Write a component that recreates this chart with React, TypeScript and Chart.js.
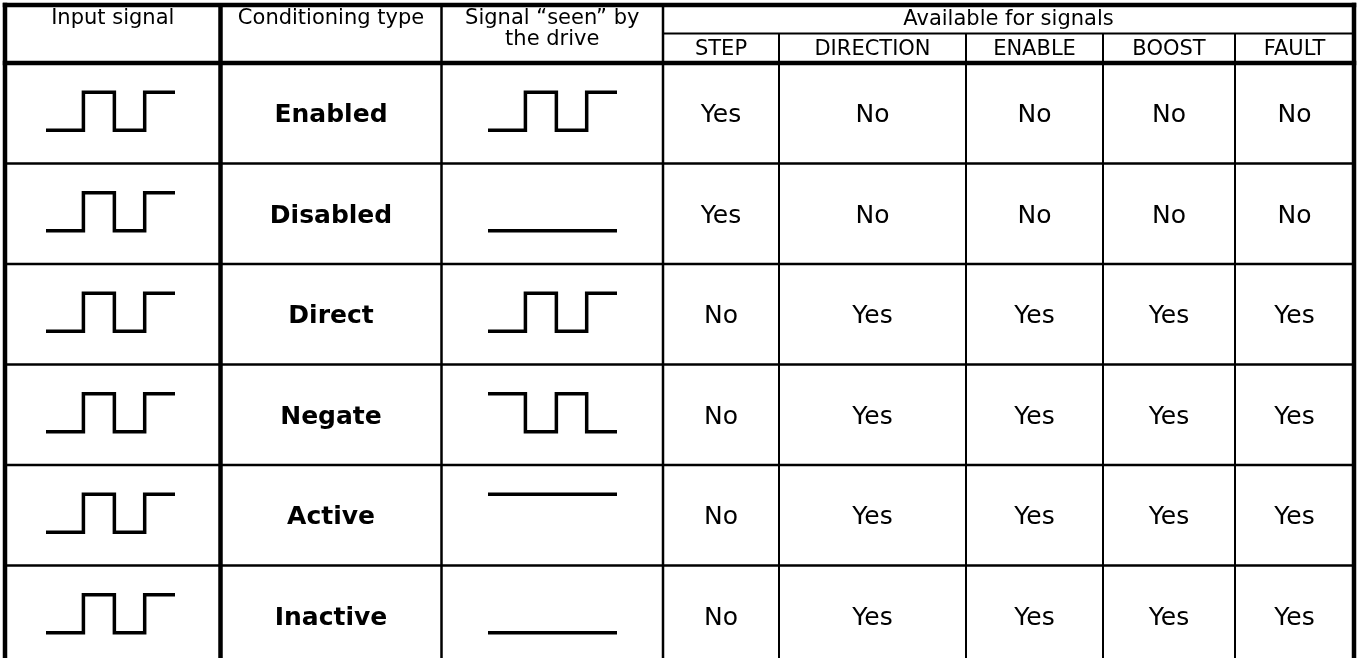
import React, { useEffect, useRef } from "react";
import { Chart, registerables } from "chart.js";

Chart.register(...registerables);

// ---------------- data ----------------
const HEADER_INPUT = "Input signal";
const HEADER_CONDITIONING = "Conditioning type";
const HEADER_SEEN = ["Signal “seen” by", "the drive"];
const HEADER_AVAILABLE = "Available for signals";
const SIGNAL_NAMES = ["STEP", "DIRECTION", "ENABLE", "BOOST", "FAULT"];

const CONDITIONING_TYPES = ["Enabled", "Disabled", "Direct", "Negate", "Active", "Inactive"];

// logic levels of each waveform segment (1 = high, 0 = low)
const INPUT_SIGNAL = [0, 1, 0, 1];
const SEEN_SIGNALS = [
  [0, 1, 0, 1], // Enabled
  [0], // Disabled
  [0, 1, 0, 1], // Direct
  [1, 0, 1, 0], // Negate
  [1], // Active
  [0], // Inactive
];

const STEP_AVAILABLE = ["Yes", "Yes", "No", "No", "No", "No"];
const DIRECTION_AVAILABLE = ["No", "No", "Yes", "Yes", "Yes", "Yes"];
const ENABLE_AVAILABLE = ["No", "No", "Yes", "Yes", "Yes", "Yes"];
const BOOST_AVAILABLE = ["No", "No", "Yes", "Yes", "Yes", "Yes"];
const FAULT_AVAILABLE = ["No", "No", "Yes", "Yes", "Yes", "Yes"];

// ---------------- layout ----------------
const W = 1361;
const H = 658;
const COL_EDGES = [5, 220.5, 441.5, 663, 779, 966, 1103, 1235, 1354];
const TOP_Y = 5;
const SUB_Y = 33.5;
const HEAD_Y = 63;
const ROW_H = 100.5;
const BOTTOM_Y = HEAD_Y + ROW_H * CONDITIONING_TYPES.length;
const THICK = 4.5;
const MID = 2.5;
const THIN = 2;
const WAVE_W = 129;
const WAVE_SPLIT = [0, 0.29, 0.53, 0.765, 1];
const WAVE_AMP = 19;
const WAVE_DY = -2;
const INPUT_WAVE_CX = 110.5;
const SEEN_WAVE_CX = 552.5;
const FONT = '"DejaVu Sans", Verdana, sans-serif';
const INK = "#000000";

const rowCenter = (i: number) => HEAD_Y + ROW_H * i + ROW_H / 2;

function wavePoints(levels: number[], cx: number, cy: number) {
  const x0 = cx - WAVE_W / 2;
  const splits = levels.length === 1 ? [0, 1] : WAVE_SPLIT;
  const pts: { x: number; y: number }[] = [];
  levels.forEach((lv, i) => {
    const y = lv ? cy - WAVE_AMP : cy + WAVE_AMP;
    pts.push({ x: x0 + splits[i] * WAVE_W, y });
    pts.push({ x: x0 + splits[i + 1] * WAVE_W, y });
  });
  return pts;
}

const tablePlugin = {
  id: "tableGrid",
  beforeDatasetsDraw(chart: any) {
    const ctx = chart.ctx as CanvasRenderingContext2D;
    const xs = chart.scales.x;
    const ys = chart.scales.y;
    const X = (v: number) => xs.getPixelForValue(v);
    const Y = (v: number) => ys.getPixelForValue(v);
    const hline = (y: number, x1: number, x2: number, w: number) => {
      ctx.beginPath();
      ctx.lineWidth = w;
      ctx.moveTo(X(x1), Y(y));
      ctx.lineTo(X(x2), Y(y));
      ctx.stroke();
    };
    const vline = (x: number, y1: number, y2: number, w: number) => {
      ctx.beginPath();
      ctx.lineWidth = w;
      ctx.moveTo(X(x), Y(y1));
      ctx.lineTo(X(x), Y(y2));
      ctx.stroke();
    };
    ctx.save();
    ctx.strokeStyle = INK;
    ctx.lineCap = "butt";
    const L = COL_EDGES[0];
    const R = COL_EDGES[COL_EDGES.length - 1];
    // row separators
    for (let i = 1; i <= CONDITIONING_TYPES.length; i++) {
      hline(HEAD_Y + ROW_H * i, L, R, MID);
    }
    // sub-header line under "Available for signals"
    hline(SUB_Y, COL_EDGES[3], R, THIN);
    // signal column separators
    for (let c = 4; c < COL_EDGES.length - 1; c++) vline(COL_EDGES[c], SUB_Y, BOTTOM_Y, THIN);
    // main column separators
    vline(COL_EDGES[2], TOP_Y, BOTTOM_Y, MID);
    vline(COL_EDGES[3], TOP_Y, BOTTOM_Y, MID);
    vline(COL_EDGES[1], TOP_Y, BOTTOM_Y, THICK);
    // thick borders
    hline(HEAD_Y, L - THICK / 2, R + THICK / 2, THICK);
    hline(TOP_Y, L - THICK / 2, R + THICK / 2, THICK);
    vline(L, TOP_Y - THICK / 2, BOTTOM_Y, THICK);
    vline(R, TOP_Y - THICK / 2, BOTTOM_Y, THICK);
    hline(BOTTOM_Y, L - THICK / 2, R + THICK / 2, THICK);
    ctx.restore();
  },
  afterDatasetsDraw(chart: any) {
    const ctx = chart.ctx as CanvasRenderingContext2D;
    const xs = chart.scales.x;
    const ys = chart.scales.y;
    const X = (v: number) => xs.getPixelForValue(v);
    const Y = (v: number) => ys.getPixelForValue(v);
    const colC = (c: number) => (COL_EDGES[c] + COL_EDGES[c + 1]) / 2;
    ctx.save();
    ctx.fillStyle = INK;
    ctx.textAlign = "center";
    ctx.textBaseline = "alphabetic";
    // header
    ctx.font = `21px ${FONT}`;
    ctx.fillText(HEADER_INPUT, X(colC(0)), Y(24));
    ctx.fillText(HEADER_CONDITIONING, X(colC(1)), Y(24));
    ctx.fillText(HEADER_SEEN[0], X(colC(2)), Y(24));
    ctx.fillText(HEADER_SEEN[1], X(colC(2)), Y(45));
    ctx.fillText(HEADER_AVAILABLE, X((COL_EDGES[3] + COL_EDGES[8]) / 2), Y(25));
    SIGNAL_NAMES.forEach((s, i) => ctx.fillText(s, X(colC(3 + i)), Y(54.5)));
    // body
    const avail = [STEP_AVAILABLE, DIRECTION_AVAILABLE, ENABLE_AVAILABLE, BOOST_AVAILABLE, FAULT_AVAILABLE];
    CONDITIONING_TYPES.forEach((name, r) => {
      const base = rowCenter(r) + 9;
      ctx.font = `bold 25px ${FONT}`;
      ctx.fillText(name, X(colC(1)), Y(base));
      ctx.font = `25px ${FONT}`;
      avail.forEach((col, c) => ctx.fillText(col[r], X(colC(3 + c)), Y(base)));
    });
    ctx.restore();
  },
};

export default function App() {
  const ref = useRef<HTMLCanvasElement | null>(null);
  useEffect(() => {
    if (!ref.current) return;
    const lineStyle = {
      borderColor: INK,
      borderWidth: 3.5,
      pointRadius: 0,
      pointHoverRadius: 0,
      tension: 0,
      fill: false,
      borderJoinStyle: "miter" as const,
      borderCapStyle: "butt" as const,
    };
    const datasets: any[] = [];
    CONDITIONING_TYPES.forEach((name, r) => {
      const cy = rowCenter(r) + WAVE_DY;
      datasets.push({ label: `Input ${name}`, data: wavePoints(INPUT_SIGNAL, INPUT_WAVE_CX, cy), ...lineStyle });
      datasets.push({ label: `Seen ${name}`, data: wavePoints(SEEN_SIGNALS[r], SEEN_WAVE_CX, cy), ...lineStyle });
    });
    const chart = new Chart(ref.current, {
      type: "line",
      data: { datasets },
      options: {
        animation: false,
        responsive: false,
        devicePixelRatio: 1,
        layout: { padding: 0 },
        events: [],
        plugins: { legend: { display: false }, tooltip: { enabled: false } },
        scales: {
          x: { type: "linear", min: 0, max: W, display: false },
          y: { type: "linear", min: 0, max: H, reverse: true, display: false },
        },
      },
      plugins: [tablePlugin],
    });
    return () => chart.destroy();
  }, []);
  return (
    <div style={{ position: "absolute", left: 0, top: 0, width: W, height: H, background: "#fff" }}>
      <canvas ref={ref} width={W} height={H} style={{ display: "block" }} />
    </div>
  );
}
